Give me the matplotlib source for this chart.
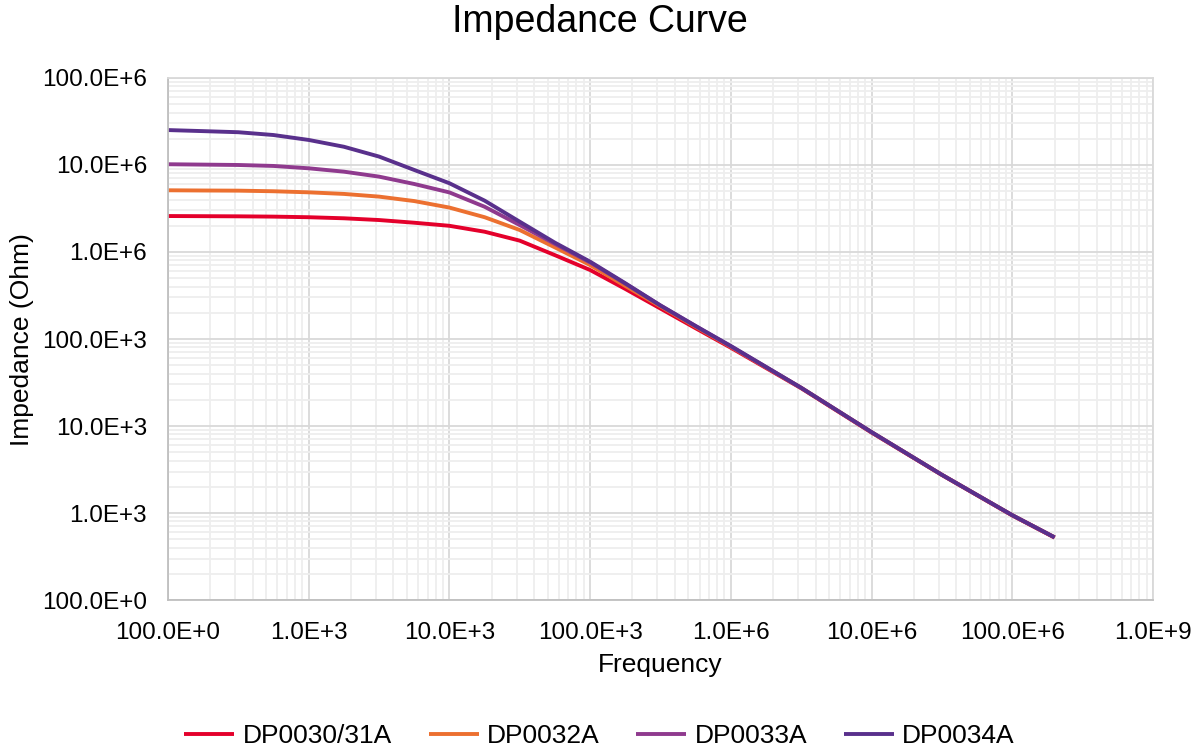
import matplotlib
matplotlib.use('Agg')
import matplotlib.pyplot as plt
from matplotlib.ticker import LogLocator, FixedLocator, NullFormatter

plt.rcParams['font.family'] = ['Liberation Sans', 'DejaVu Sans']

# frequency points (Hz)
freq = [100, 178, 316, 562, 1000, 1780, 3160, 5620, 10000, 17800, 31600, 56200,
        1e5, 1.78e5, 3.16e5, 5.62e5, 1e6, 3.16e6, 1e7, 3.16e7, 1e8, 2e8]

# impedance (Ohm) per part
dp0030 = [2.59e6, 2.58e6, 2.57e6, 2.55e6, 2.51e6, 2.44e6, 2.33e6, 2.17e6, 2.0e6, 1.71e6, 1.35e6, 0.92e6,
          621e3, 376e3, 224e3, 133e3, 79.4e3, 27.2e3, 8.41e3, 2.74e3, 938, 522]
dp0032 = [5.12e6, 5.09e6, 5.07e6, 4.99e6, 4.85e6, 4.65e6, 4.33e6, 3.85e6, 3.24e6, 2.51e6, 1.79e6, 1.13e6,
          708e3, 407e3, 237e3, 138e3, 81.3e3, 27.5e3, 8.5e3, 2.75e3, 944, 525]
dp0033 = [10.2e6, 10.1e6, 10.0e6, 9.75e6, 9.16e6, 8.38e6, 7.35e6, 6.05e6, 4.84e6, 3.31e6, 2.04e6, 1.24e6,
          759e3, 432e3, 243e3, 141e3, 82.2e3, 27.5e3, 8.5e3, 2.75e3, 944, 525]
dp0034 = [25.2e6, 24.5e6, 23.8e6, 22.1e6, 19.4e6, 16.2e6, 12.5e6, 8.77e6, 6.17e6, 3.89e6, 2.23e6, 1.28e6,
          774e3, 437e3, 243e3, 141e3, 83.2e3, 27.5e3, 8.51e3, 2.75e3, 944, 525]

names = ['DP0030/31A', 'DP0032A', 'DP0033A', 'DP0034A']
colors = ['#E4002B', '#EC7030', '#8F3A8E', '#59308C']

xticks = [1e2, 1e3, 1e4, 1e5, 1e6, 1e7, 1e8, 1e9]
xlabels = ['100.0E+0', '1.0E+3', '10.0E+3', '100.0E+3', '1.0E+6', '10.0E+6', '100.0E+6', '1.0E+9']
yticks = [1e2, 1e3, 1e4, 1e5, 1e6, 1e7, 1e8]
ylabels = ['100.0E+0', '1.0E+3', '10.0E+3', '100.0E+3', '1.0E+6', '10.0E+6', '100.0E+6']

fig = plt.figure(figsize=(11.99, 7.52), dpi=100)
ax = fig.add_axes([0.1401, 0.2021, 0.8215, 0.6942])

for vals, name, c in zip([dp0030, dp0032, dp0033, dp0034], names, colors):
    ax.plot(freq, vals, color=c, lw=2.8, label=name, solid_capstyle='butt', solid_joinstyle='round')

ax.set_xscale('log')
ax.set_yscale('log')
ax.set_xlim(1e2, 1e9)
ax.set_ylim(1e2, 1e8)

ax.xaxis.set_major_locator(FixedLocator(xticks))
ax.set_xticklabels(xlabels)
ax.yaxis.set_major_locator(FixedLocator(yticks))
ax.set_yticklabels(ylabels)
for axis in (ax.xaxis, ax.yaxis):
    axis.set_minor_locator(LogLocator(base=10, subs=range(2, 10), numticks=20))
    axis.set_minor_formatter(NullFormatter())

# excel style grid
ax.grid(which='minor', color='#eeeeee', lw=1.3)
ax.grid(which='major', color='#d9d9d9', lw=1.3)
ax.set_axisbelow(True)
ax.tick_params(which='both', length=0)
ax.tick_params(axis='y', labelsize=17.5, pad=15)
ax.tick_params(axis='x', labelsize=17.5, pad=16)

for s in ['top', 'right']:
    ax.spines[s].set_color('#d9d9d9')
for s in ['left', 'bottom']:
    ax.spines[s].set_color('#bfbfbf')
for s in ax.spines.values():
    s.set_linewidth(1.3)

ax.set_xlabel('Frequency', fontsize=19)
ax.xaxis.set_label_coords(0.5, -0.101)
fig.text(22 / 1199, 1 - 340 / 752, 'Impedance (Ohm)', rotation=90,
         ha='center', va='center', fontsize=19)

fig.text(0.5, 1 - 22 / 752, 'Impedance Curve', ha='center', va='center', fontsize=27)

fig.legend(loc='center', bbox_to_anchor=(0.5, 1 - 736 / 752), ncol=4, frameon=False,
           fontsize=19, handlelength=1.9, handletextpad=0.3, columnspacing=1.4)

plt.savefig('out.png', dpi=100)
